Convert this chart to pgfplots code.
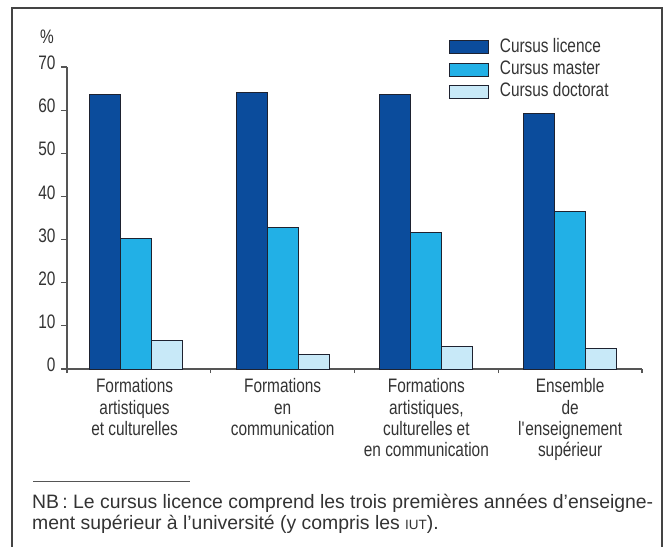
\documentclass[border=0pt]{standalone}
\usepackage{pgfplots}
\pgfplotsset{compat=1.18}
\usepackage{fontspec}
\setmainfont{Liberation Sans}[FakeStretch=0.79]
\newfontfamily\nbfont{Liberation Sans}
\definecolor{licence}{HTML}{0B4C9C}
\definecolor{master}{HTML}{22B0E6}
\definecolor{doctorat}{HTML}{C8E9F8}
\definecolor{edgecol}{HTML}{1E2230}
\definecolor{axisgray}{HTML}{555555}
\definecolor{textgray}{HTML}{333333}
\definecolor{framegray}{HTML}{444444}
\begin{document}
\begin{tikzpicture}[x=1pt,y=1pt]
\useasboundingbox (0,0) rectangle (668,546);
\draw[framegray, line width=1.3pt] (12,-2) -- (12,538) -- (662,538) -- (662,-2);
\begin{axis}[
  at={(67pt,177pt)}, anchor=south west,
  scale only axis, width=575pt, height=302pt,
  xmin=-0.5, xmax=3.5, ymin=0, ymax=70,
  enlargelimits=false, clip=false,
  axis x line=bottom, axis y line=left,
  axis line style={-, draw=axisgray, line width=1.3pt},
  ybar=0pt, bar width=31pt,
  tick align=outside, major tick length=6pt,
  xtick={-0.03,1,2,3},
  xticklabels={{Formations\\artistiques\\et culturelles},{Formations\\en\\communication},{Formations\\artistiques,\\culturelles et\\en communication},{Ensemble\\de\\l\textquotesingle enseignement\\supérieur}},
  xtick style={draw=none},
  extra x ticks={-0.5,0.5,1.5,2.5,3.5},
  extra x tick labels={},
  extra x tick style={major tick length=4pt, xtick style={draw=axisgray, line width=1.2pt}},
  ytick={0,10,...,70},
  ytick style={draw=axisgray, line width=1.2pt},
  /pgf/number format/assume math mode=true,
  tick label style={font=\fontsize{19.5}{21.4}\selectfont, text=textgray},
  xticklabel style={align=center, anchor=north},
  yticklabel style={yshift=4pt, xshift=-2pt},
  legend style={at={(axis description cs:0.6643,1.0937)}, anchor=north west,
    draw=none, fill=none, inner sep=0pt, outer sep=0pt,
    column sep=11pt, row sep=4.8pt,
    nodes={inner sep=0pt, text height=13.5pt, text depth=4pt, text=textgray,
      font=\fontsize{19.5}{21}\selectfont}},
  legend cell align=left,
]
\addplot[fill=licence, draw=edgecol, line width=0.9pt,
  legend image code/.code={\draw[fill=licence, draw=edgecol, line width=0.9pt] (0pt,-6.5pt) rectangle (39pt,6.5pt);}]
  coordinates {(-0.02,63.6) (1,64.2) (2,63.7) (3,59.2)};
\addplot[fill=master, draw=edgecol, line width=0.9pt,
  legend image code/.code={\draw[fill=master, draw=edgecol, line width=0.9pt] (0pt,-6.5pt) rectangle (39pt,6.5pt);}]
  coordinates {(-0.02,30.3) (1,32.8) (2,31.6) (3,36.6)};
\addplot[fill=doctorat, draw=edgecol, line width=0.9pt,
  legend image code/.code={\draw[fill=doctorat, draw=edgecol, line width=0.9pt] (0pt,-6.5pt) rectangle (39pt,6.5pt);}]
  coordinates {(-0.02,6.7) (1,3.4) (2,5.2) (3,4.7)};
\legend{Cursus licence, Cursus master, Cursus doctorat}
\end{axis}
\node[text=textgray, font=\fontsize{19.5}{21}\selectfont, inner sep=0pt] at (47,509) {\%};
\draw[axisgray, line width=1pt] (33,65) -- (190,65);
\node[anchor=base west, inner sep=0pt, text=textgray, font=\nbfont\fontsize{19.4}{21}\selectfont] at (32,38) {NB\,: Le cursus licence comprend les trois premières années d’enseigne-};
\node[anchor=base west, inner sep=0pt, text=textgray, font=\nbfont\fontsize{19.4}{21}\selectfont] at (32,17) {ment supérieur à l’université (y compris les {\fontsize{13.5}{13.5}\selectfont IUT}).};
\end{tikzpicture}
\end{document}
